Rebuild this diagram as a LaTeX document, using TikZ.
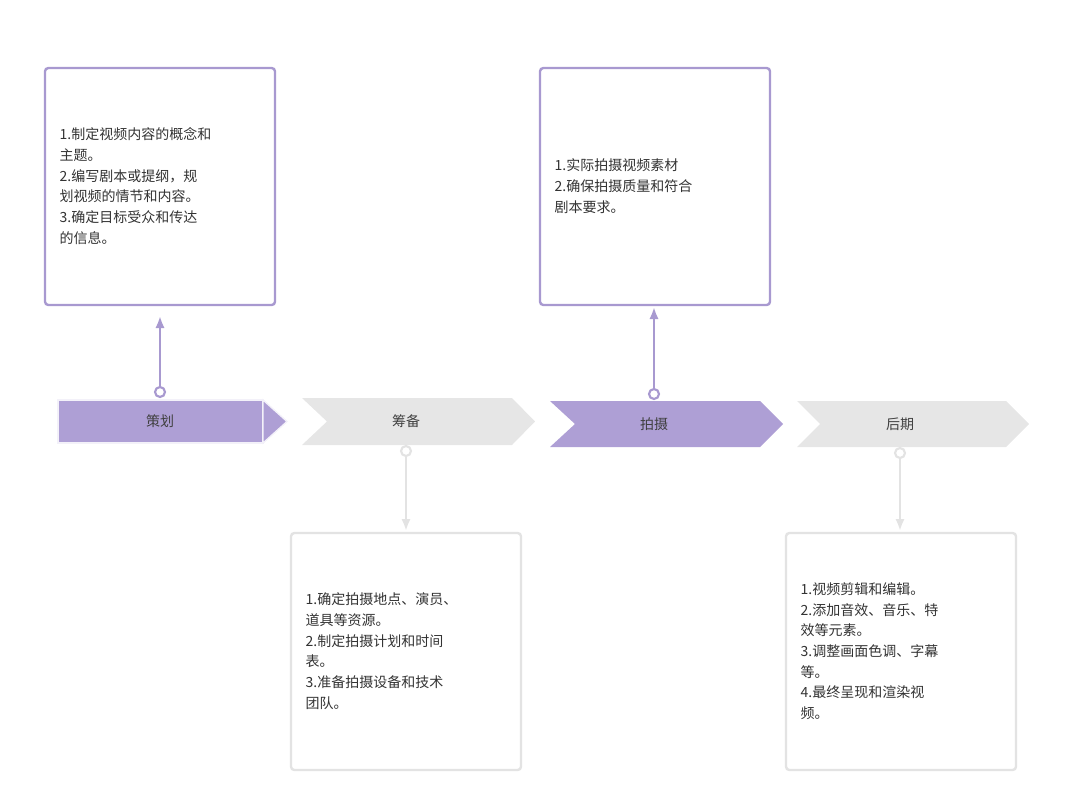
\documentclass[tikz,border=0pt]{standalone}
\usepackage{fontspec}
\setmainfont{Noto Sans CJK SC}
\begin{document}
\begin{tikzpicture}[x=0.75pt,y=-0.75pt,
  pur/.style={fill=purple!0!white},
  box/.style={rounded corners=2.5pt,line width=1.8pt,fill=white},
  txt/.style={anchor=west,align=left,font=\fontsize{10.5}{15.5}\selectfont,text=black!80},
  lab/.style={font=\fontsize{10.5}{12}\selectfont,text=black!75},
  con/.style={line width=1.8pt,-{Latex[length=9pt,width=7pt]}},
  dot/.style={circle,draw,line width=1.6pt,fill=white,inner sep=0pt,minimum size=7.5pt}]
\usetikzlibrary{arrows.meta}
\definecolor{P}{HTML}{AE9FD5}
\definecolor{PB}{HTML}{A899D0}
\definecolor{G}{HTML}{E6E6E6}
\definecolor{GB}{HTML}{E3E3E3}
\useasboundingbox (0,0) rectangle (1079,800);
% boxes
\draw[box,draw=PB] (45,68) rectangle (275,305);
\draw[box,draw=PB] (540,68) rectangle (770,305);
\draw[box,draw=GB] (291,533) rectangle (521,770);
\draw[box,draw=GB] (786,533) rectangle (1016,770);
\node[txt] (t1) at (55,186) {1.制定视频内容的概念和\\主题。\\2.编写剧本或提纲，规\\划视频的情节和内容。\\3.确定目标受众和传达\\的信息。};
\node[txt] (t2) at (550,186) {1.实际拍摄视频素材\\2.确保拍摄质量和符合\\剧本要求。};
\node[txt] (t3) at (301,651) {1.确定拍摄地点、演员、\\道具等资源。\\2.制定拍摄计划和时间\\表。\\3.准备拍摄设备和技术\\团队。};
\node[txt] (t4) at (796,651) {1.视频剪辑和编辑。\\2.添加音效、音乐、特\\效等元素。\\3.调整画面色调、字幕\\等。\\4.最终呈现和渲染视\\频。};
% stages
\fill[P,draw=white!85!P,line width=1pt] (58,400) rectangle (263,443);
\fill[P,draw=white!85!P,line width=1pt] (263,400) -- (287,421.5) -- (263,443) -- cycle;
\node[lab] (s1) at (160,421.5) {策划};
\fill[G] (302,398) -- (512,398) -- (535,421.5) -- (512,445) -- (302,445) -- (327,421.5) -- cycle;
\node[lab] (s2) at (406,421.5) {筹备};
\fill[P] (550,401) -- (760,401) -- (783,424) -- (760,447) -- (550,447) -- (575,424) -- cycle;
\node[lab] (s3) at (654,424) {拍摄};
\fill[G] (797,401) -- (1006,401) -- (1029,424) -- (1006,447) -- (797,447) -- (820,424) -- cycle;
\node[lab] (s4) at (900,424) {后期};
% connectors
\node[dot,draw=PB] (d1) at (160,392) {};
\node[dot,draw=GB] (d2) at (406,451) {};
\node[dot,draw=PB] (d3) at (654,394) {};
\node[dot,draw=GB] (d4) at (900,453) {};
\coordinate (e1) at (160,316);
\coordinate (e2) at (406,531);
\coordinate (e3) at (654,307);
\coordinate (e4) at (900,531);
\draw[con,PB] (d1) -- (e1);
\draw[con,GB] (d2) -- (e2);
\draw[con,PB] (d3) -- (e3);
\draw[con,GB] (d4) -- (e4);
\end{tikzpicture}
\end{document}
